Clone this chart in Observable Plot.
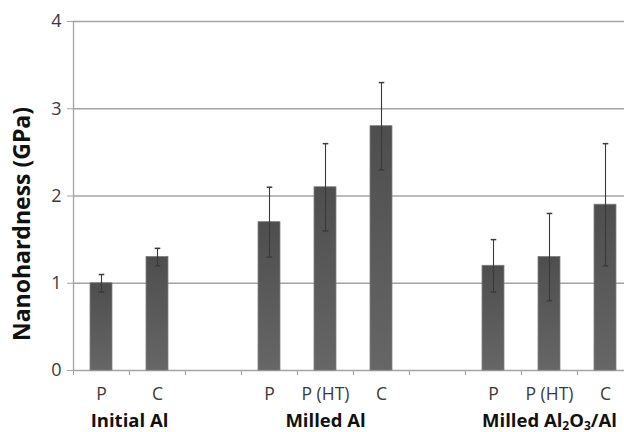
<!DOCTYPE html>
<html>
<head>
<meta charset="utf-8">
<script src="https://cdn.jsdelivr.net/npm/d3@7"></script>
<script src="https://cdn.jsdelivr.net/npm/@observablehq/plot@0.6"></script>
<style>
  html, body { margin: 0; padding: 0; background: #fff; }
  svg { font-family: "Open Sans", sans-serif; }
</style>
</head>
<body>
<div id="chart"></div>
<script>
// slot labels along x (empty strings are gaps between groups)
const slotLabels = ["P", "C", "", "P", "P (HT)", "C", "", "P", "P (HT)", "C"];
// bars: slot index, value, error (±)
const barSlots  = [0, 1, 3, 4, 5, 7, 8, 9];
const barValues = [1.0, 1.3, 1.7, 2.1, 2.8, 1.2, 1.3, 1.9];
const barErrors = [0.1, 0.1, 0.4, 0.5, 0.5, 0.3, 0.5, 0.7];
// group labels and their centre (in slot units)
const groupNames   = ["Initial Al", "Milled Al", "Milled Al2O3/Al"];
const groupCenters = [0.5, 4, 8];
const yTicks = [0, 1, 2, 3, 4];
const yTitle = "Nanohardness (GPa)";

const bars = barSlots.map((s, i) => ({slot: s, value: barValues[i], err: barErrors[i]}));
const groups = groupNames.map((g, i) => ({name: g, x: groupCenters[i]}));
const boundaries = d3.range(0, slotLabels.length + 1).map(i => i - 0.5);
const centers = d3.range(0, slotLabels.length);

const half = 0.196, cap = 0.05;

const chart = Plot.plot({
  width: 624,
  height: 432,
  marginLeft: 73,
  marginRight: -9,
  marginTop: 21,
  marginBottom: 62,
  style: {fontFamily: "'Open Sans', sans-serif", background: "#fff"},
  x: {type: "linear", domain: [-0.5, slotLabels.length - 0.5]},
  y: {domain: [0, 4]},
  marks: [
    Plot.ruleY([1, 2, 3, 4], {stroke: "#a4a4a4", strokeWidth: 1.3}),
    Plot.ruleY([0], {stroke: "#a4a4a4", strokeWidth: 1.3}),
    Plot.ruleX([-0.5], {y1: 0, y2: 4, stroke: "#a4a4a4", strokeWidth: 1.3}),
    // y ticks and labels
    Plot.axisY({ticks: yTicks, tickSize: 6, tickPadding: 6, stroke: "#a4a4a4", fill: "#3a3a3a", fontSize: 18, label: null, tickFormat: d3.format("d")}),
    // x boundary ticks
    Plot.axisX({ticks: boundaries, tickSize: 5, stroke: "#a4a4a4", tickFormat: () => "", label: null}),
    // x category labels
    Plot.axisX({ticks: centers, tickSize: 0, tickPadding: 17, tickFormat: i => slotLabels[i], fill: "#3a3a3a", fontSize: 17.5, label: null}),
    Plot.rectY(bars, {x1: d => d.slot - half, x2: d => d.slot + half, y: "value", fill: "url(#barGrad)", stroke: "#7a7a7a", strokeWidth: 0.8}),
    Plot.ruleX(bars, {x: "slot", y1: d => d.value - d.err, y2: d => d.value + d.err, stroke: "#3a3a3a", strokeWidth: 1.1}),
    Plot.link(bars, {x1: d => d.slot - cap, x2: d => d.slot + cap, y1: d => d.value + d.err, y2: d => d.value + d.err, stroke: "#3a3a3a", strokeWidth: 1.5}),
    Plot.link(bars, {x1: d => d.slot - cap, x2: d => d.slot + cap, y1: d => d.value - d.err, y2: d => d.value - d.err, stroke: "#3a3a3a", strokeWidth: 1.5}),
    Plot.text(groups, {x: "x", frameAnchor: "bottom", dy: 56, text: "name", fontWeight: "bold", fontSize: 18.5, fill: "#111"}),
    Plot.text([yTitle], {frameAnchor: "left", textAnchor: "middle", dx: -51, dy: 28, rotate: -90, text: d => d, fontWeight: "bold", fontSize: 23, fill: "#111"})
  ]
});

// gradient for the bars
const ns = "http://www.w3.org/2000/svg";
const defs = document.createElementNS(ns, "defs");
defs.innerHTML = '<linearGradient id="barGrad" x1="0" y1="0" x2="0" y2="1"><stop offset="0" stop-color="#4e4e4e"/><stop offset="1" stop-color="#666666"/></linearGradient>';
chart.insertBefore(defs, chart.firstChild);

// subscripts in Al2O3
chart.querySelectorAll("text").forEach(t => {
  if (t.textContent === "Milled Al2O3/Al") {
    t.textContent = "";
    const parts = [["Milled Al", 0], ["2", 1], ["O", 0], ["3", 1], ["/Al", 0]];
    parts.forEach(([s, sub]) => {
      const ts = document.createElementNS(ns, "tspan");
      ts.textContent = s;
      if (sub) { ts.setAttribute("font-size", "12"); ts.setAttribute("baseline-shift", "-3"); }
      t.appendChild(ts);
    });
  }
});

document.getElementById("chart").appendChild(chart);
</script>
</body>
</html>
